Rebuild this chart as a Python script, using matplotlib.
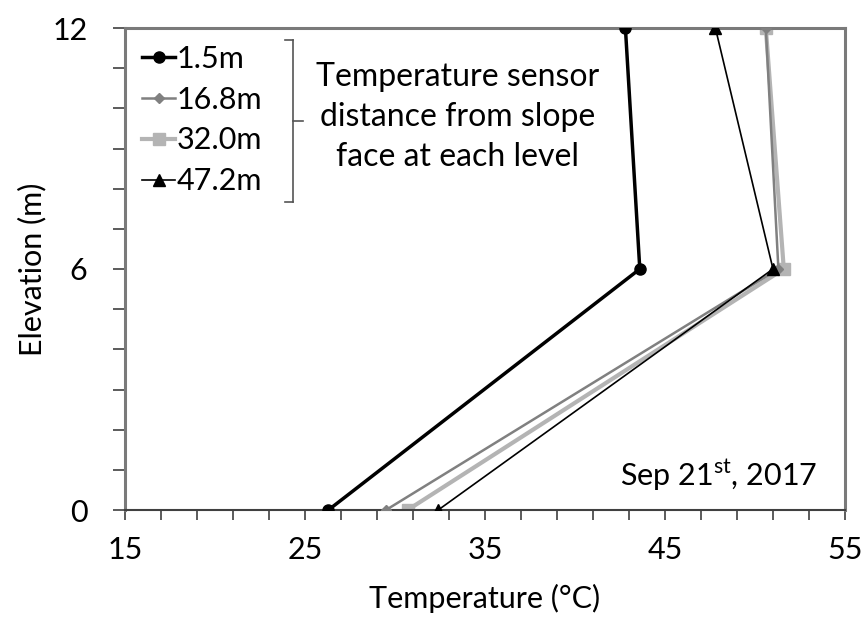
import matplotlib.pyplot as plt
from matplotlib.ticker import MultipleLocator

plt.rcParams['font.family'] = ['Lato', 'DejaVu Sans']

elevation = [0, 6, 12]
temp_1_5 = [26.3, 43.6, 42.8]
temp_16_8 = [29.5, 51.3, 50.6]
temp_32_0 = [30.7, 51.6, 50.6]
temp_47_2 = [32.4, 51.0, 47.8]
labels = ['1.5m', '16.8m', '32.0m', '47.2m']
x_ticks = [15, 25, 35, 45, 55]

fig = plt.figure(figsize=(8.66, 6.25), dpi=100)
ax = fig.add_axes([125 / 866, 115 / 625, 720 / 866, 482 / 625])

ax.plot(temp_1_5, elevation, color='black', lw=2.5, marker='o', ms=8,
        label=labels[0], zorder=5)
ax.plot(temp_16_8, elevation, color='#808080', lw=1.8, marker='D', ms=5,
        label=labels[1], zorder=3)
ax.plot(temp_32_0, elevation, color='#b4b4b4', lw=3, marker='s', ms=8,
        label=labels[2], zorder=2)
ax.plot(temp_47_2, elevation, color='black', lw=1.2, marker='^', ms=8,
        label=labels[3], zorder=4)

ax.set_xlim(15, 55)
ax.set_ylim(0, 12)
ax.set_xticks(x_ticks)
ax.xaxis.set_minor_locator(MultipleLocator(2, offset=1))
ax.yaxis.set_major_locator(MultipleLocator(6))
ax.yaxis.set_minor_locator(MultipleLocator(1))
ax.tick_params(which='both', direction='out', color='#404040', width=1.2)
ax.tick_params(which='major', labelsize=22)
ax.tick_params(axis='x', which='both', length=7)
ax.tick_params(axis='x', which='major', pad=12)
ax.tick_params(axis='y', which='both', length=9)
ax.tick_params(axis='y', which='major', pad=18)

for side in ['top', 'right', 'left']:
    ax.spines[side].set_color('#7a7a7a')
    ax.spines[side].set_linewidth(2.2)
ax.spines['bottom'].set_color('#404040')
ax.spines['bottom'].set_linewidth(1.5)

ax.set_xlabel('Temperature (°C)', fontsize=22, labelpad=14)
ax.set_ylabel('Elevation (m)', fontsize=22, labelpad=4)

leg = ax.legend(loc='upper left', bbox_to_anchor=(0.0, 1.0), frameon=False,
                fontsize=22, handlelength=1.1, handletextpad=0.05,
                labelspacing=0.42, borderaxespad=0.15)

# bracket grouping the legend entries
bx = 293
ys = [40, 202]
trans = fig.transFigure
def px(x, y):
    return x / 866, 1 - y / 625
for y in ys:
    fig.add_artist(plt.Line2D(*zip(px(bx - 8, y), px(bx, y)), color='#555555', lw=1.2, transform=trans))
fig.add_artist(plt.Line2D(*zip(px(bx, ys[0]), px(bx, ys[1])), color='#555555', lw=1.2, transform=trans))
fig.add_artist(plt.Line2D(*zip(px(bx, 121), px(bx + 10, 121)), color='#555555', lw=1.2, transform=trans))

fig.text(*px(458, 117), 'Temperature sensor\ndistance from slope\nface at each level',
         ha='center', va='center', fontsize=23, linespacing=1.4)

ax.text(0.962, 0.035, 'Sep 21$^{\\mathregular{st}}$, 2017', transform=ax.transAxes,
        ha='right', va='bottom', fontsize=22)

fig.savefig('out.png', dpi=100)
